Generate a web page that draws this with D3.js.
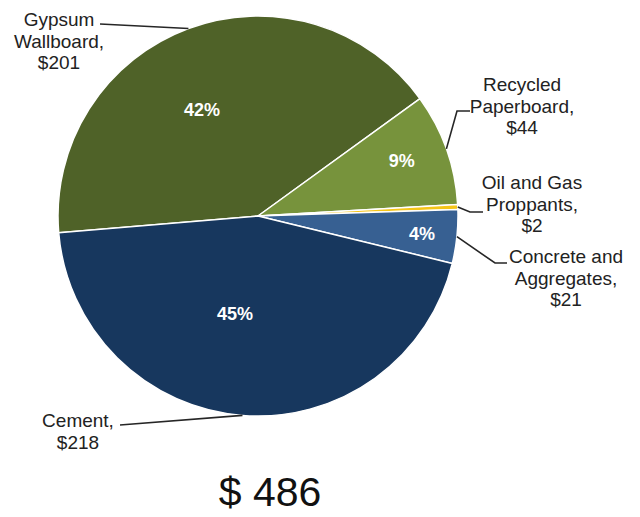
<!DOCTYPE html>
<html>
<head>
<meta charset="utf-8">
<script src="https://cdn.jsdelivr.net/npm/d3@7"></script>
<style>
  html, body { margin: 0; padding: 0; background: #fff; }
  svg { display: block; }
  text { font-family: Arial, "Liberation Sans", sans-serif; }
</style>
</head>
<body>
<svg id="chart" width="640" height="517"></svg>
<script>
// Segment revenue ($ millions)
const categories = ["Gypsum Wallboard", "Recycled Paperboard", "Oil and Gas Proppants", "Concrete and Aggregates", "Cement"];
const values = [201, 44, 2, 21, 218];
const shareLabels = ["42%", "9%", "", "4%", "45%"];
const calloutLines = [
  ["Gypsum", "Wallboard,", "$201"],
  ["Recycled", "Paperboard,", "$44"],
  ["Oil and Gas", "Proppants,", "$2"],
  ["Concrete and", "Aggregates,", "$21"],
  ["Cement,", "$218"]
];
const totalLabel = "$ 486";

// Styling and layout
const colors = ["#4f6228", "#77933c", "#f5c518", "#376092", "#17375e"];
const cx = 258, cy = 216, radius = 200;
const startDeg = -94.8;
// share label placement: [fraction of radius, angle offset in degrees]
const sharePlace = [[0.6, -7.4], [0.77, -1.3], [0, 0], [0.825, 0.3], [0.5, 8.8]];
// callout text: centre x, first baseline y; leader elbow and end points
const calloutPlace = [
  { x: 59,  y: 26,  elbow: [100, 24],  end: [100, 24] },
  { x: 522, y: 91,  elbow: [457, 111], end: [470, 111] },
  { x: 532, y: 189, elbow: [470, 212], end: [483, 212] },
  { x: 566, y: 263, elbow: [495, 263], end: [507, 263] },
  { x: 78,  y: 427, elbow: [120, 425], end: [120, 425] }
];
const lineHeight = 21.5;

const svg = d3.select("#chart");
const g = svg.append("g").attr("transform", `translate(${cx},${cy})`);

const startAngle = startDeg * Math.PI / 180;
const pie = d3.pie().sort(null).value(d => d)
  .startAngle(startAngle).endAngle(startAngle + 2 * Math.PI);
const arcs = pie(values);
const arc = d3.arc().innerRadius(0).outerRadius(radius);

g.selectAll("path.slice")
  .data(arcs)
  .join("path")
  .attr("class", "slice")
  .attr("d", arc)
  .attr("fill", (d, i) => colors[i])
  .attr("stroke", "#ffffff")
  .attr("stroke-width", 1.5)
  .attr("stroke-linejoin", "round");

// Percentage labels inside slices
g.selectAll("text.share")
  .data(arcs)
  .join("text")
  .attr("class", "share")
  .attr("transform", (d, i) => {
    const [f, off] = sharePlace[i];
    const a = (d.startAngle + d.endAngle) / 2 + off * Math.PI / 180;
    return `translate(${Math.sin(a) * radius * f},${-Math.cos(a) * radius * f})`;
  })
  .attr("text-anchor", "middle")
  .attr("dy", "0.35em")
  .attr("fill", "#ffffff")
  .attr("font-weight", "bold")
  .attr("font-size", 18)
  .text((d, i) => shareLabels[i]);

// Leader lines from the slice edge to each callout
const line = d3.line();
svg.selectAll("path.leader")
  .data(arcs)
  .join("path")
  .attr("class", "leader")
  .attr("d", (d, i) => {
    const a = (d.startAngle + d.endAngle) / 2;
    const p0 = [cx + Math.sin(a) * radius, cy - Math.cos(a) * radius];
    const pl = calloutPlace[i];
    return line([p0, pl.elbow, pl.end]);
  })
  .attr("fill", "none")
  .attr("stroke", "#262626")
  .attr("stroke-width", 1.6);

// Callout labels
const callouts = svg.selectAll("text.callout")
  .data(arcs)
  .join("text")
  .attr("class", "callout")
  .attr("text-anchor", "middle")
  .attr("font-size", 19)
  .attr("fill", "#222222")
  .attr("x", (d, i) => calloutPlace[i].x)
  .attr("y", (d, i) => calloutPlace[i].y);

callouts.each(function (d, i) {
  d3.select(this).selectAll("tspan")
    .data(calloutLines[i])
    .join("tspan")
    .attr("x", calloutPlace[i].x)
    .attr("dy", (t, j) => j === 0 ? 0 : lineHeight)
    .text(t => t);
});

// Total
svg.append("text")
  .attr("x", 270)
  .attr("y", 506)
  .attr("text-anchor", "middle")
  .attr("font-size", 41)
  .attr("fill", "#111111")
  .text(totalLabel);
</script>
</body>
</html>
